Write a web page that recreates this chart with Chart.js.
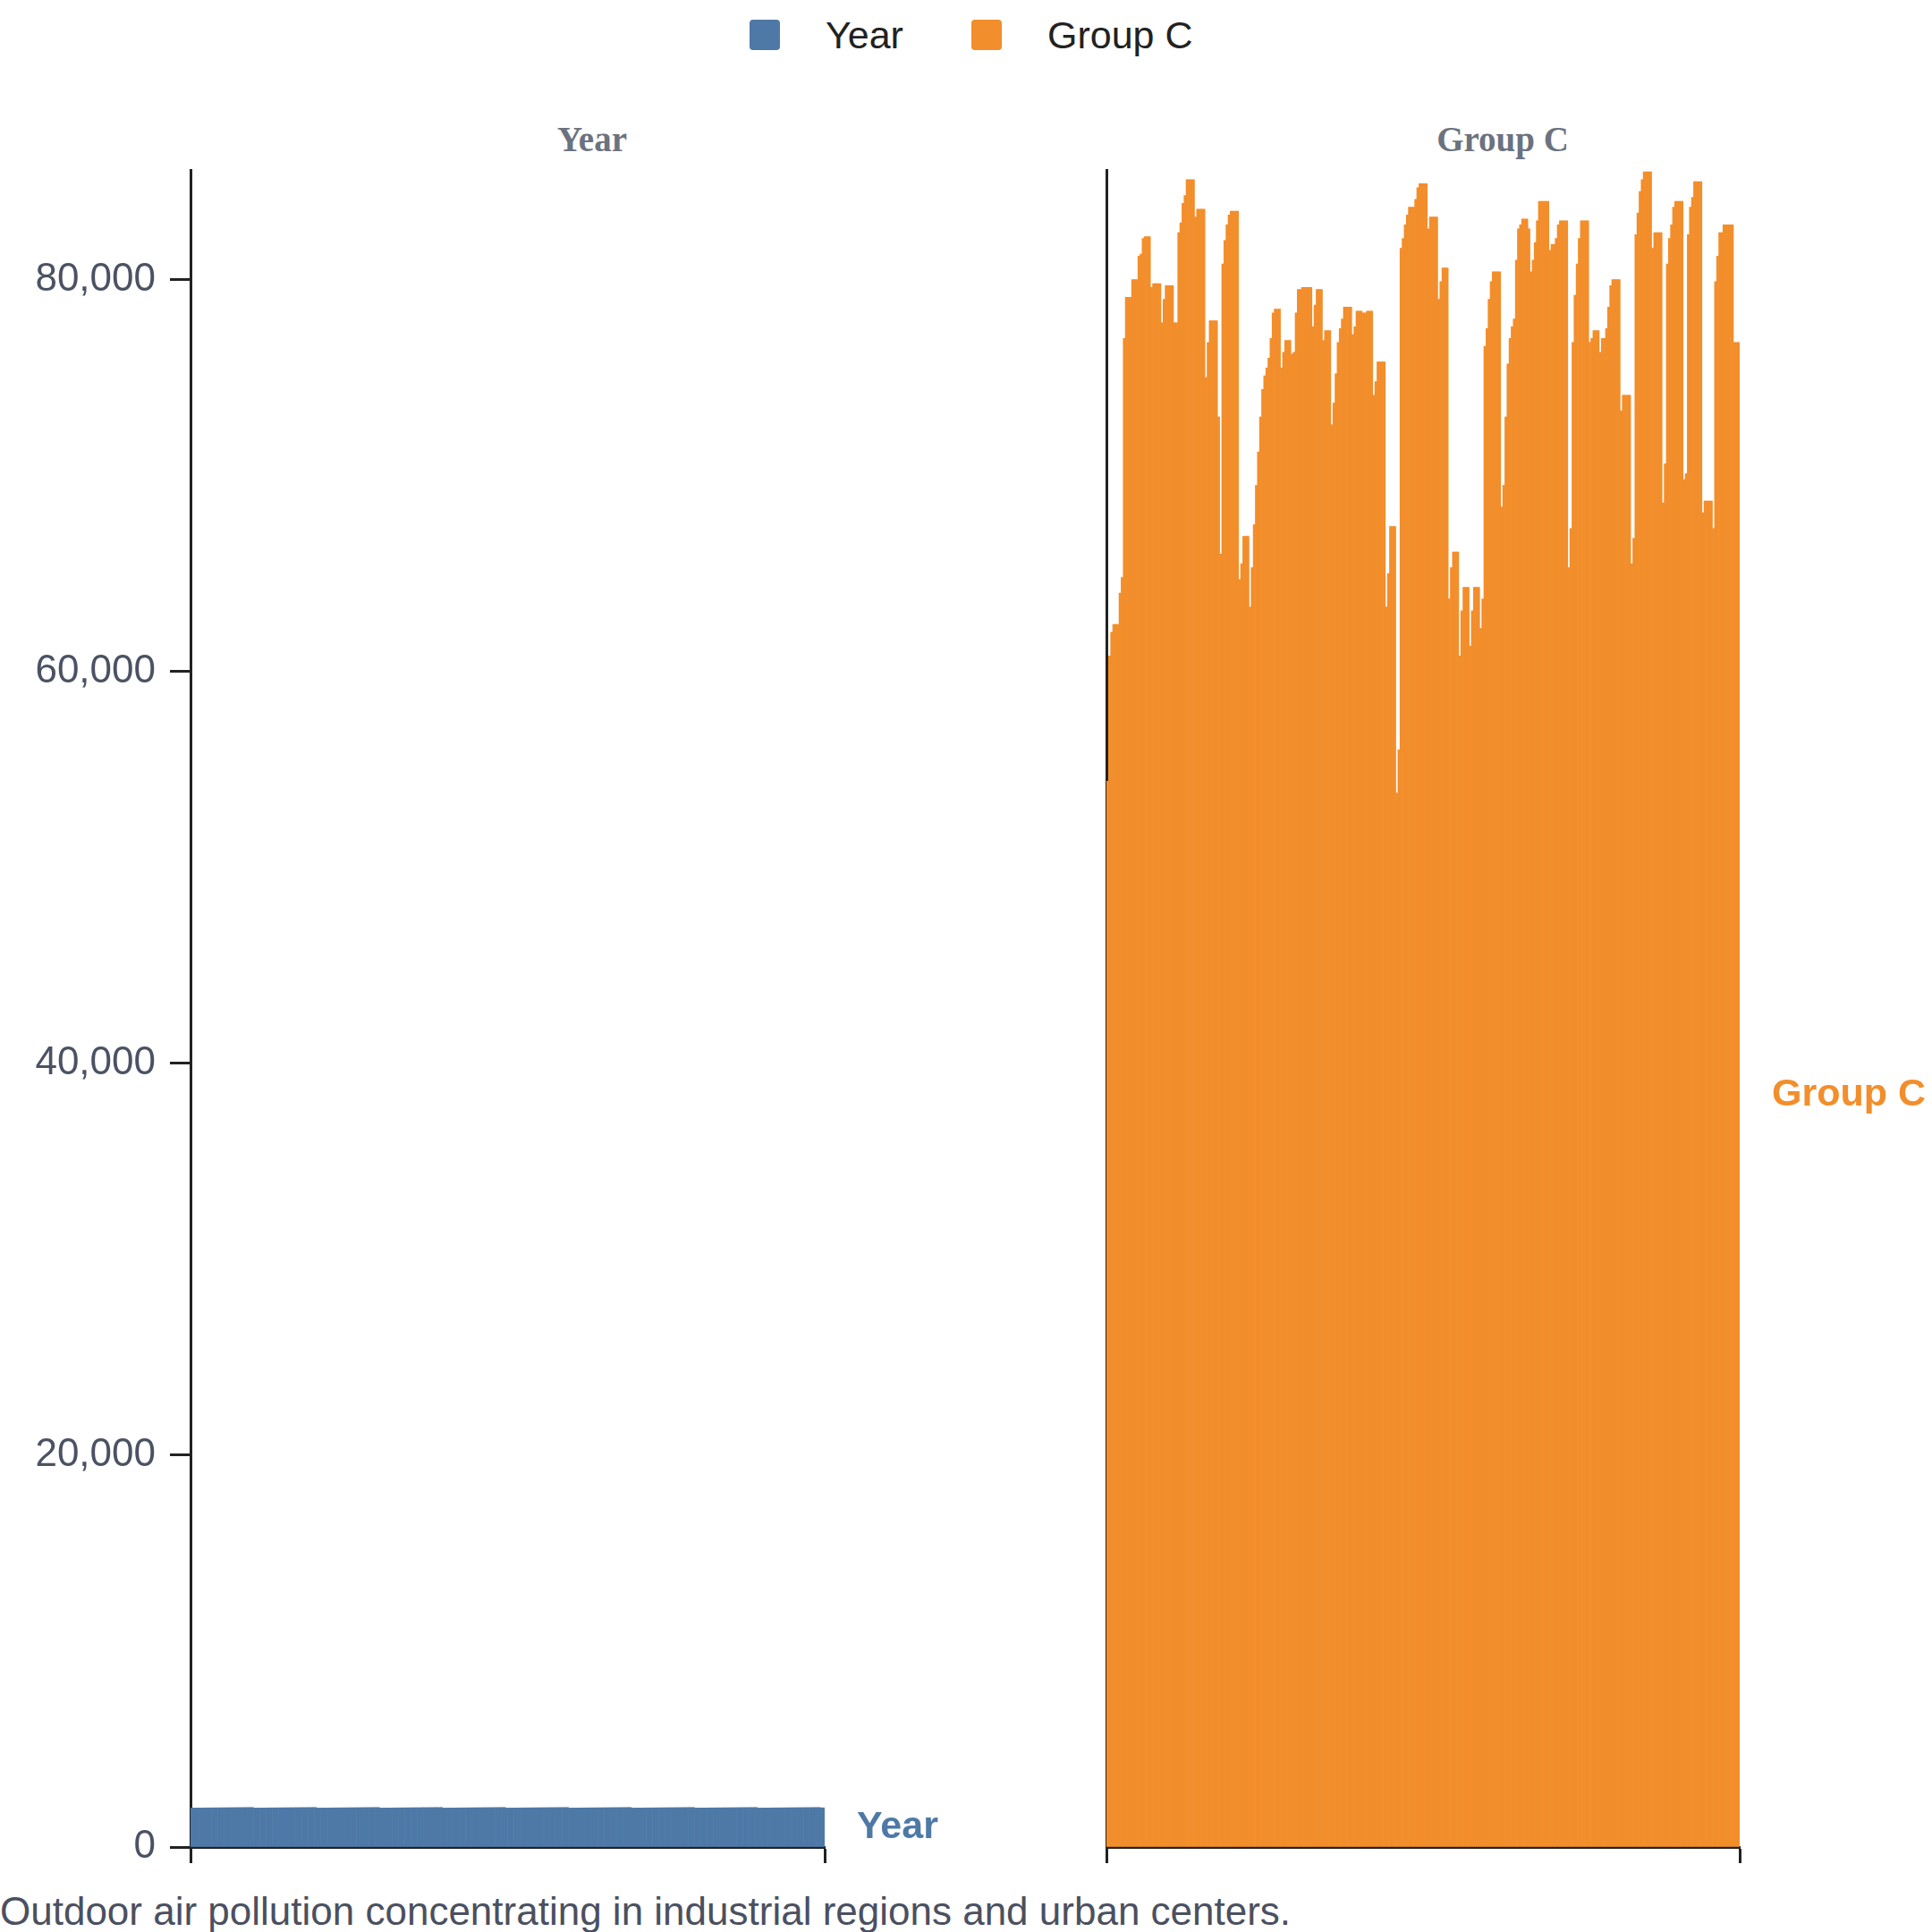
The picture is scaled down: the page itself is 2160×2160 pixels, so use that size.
<!DOCTYPE html>
<html>
<head>
<meta charset="utf-8">
<script src="https://cdn.jsdelivr.net/npm/chart.js@4.4.1/dist/chart.umd.min.js"></script>
<style>
  html, body { margin: 0; padding: 0; background: #ffffff; }
  #page { position: relative; width: 2160px; height: 2160px; overflow: hidden; background: #ffffff;
          font-family: "Liberation Sans", Arial, sans-serif; }
  canvas { position: absolute; }
  .abs { position: absolute; white-space: nowrap; }
  .sq { position: absolute; width: 34px; height: 34px; border-radius: 4px; }
  .legtxt { font-size: 43px; color: #222222; line-height: 1; transform: translateY(-50%); }
  .ftitle { font-family: "Liberation Serif", "Times New Roman", serif; font-weight: bold; font-size: 39px;
            color: #6b7280; line-height: 1; transform: translate(-50%, -50%); }
  #caption { font-size: 44px; color: #4b5060; line-height: 1; transform: translateY(-50%); }
</style>
</head>
<body>
<div id="page">
  <div class="sq" style="left:838px; top:22px; background:#4e79a7;"></div>
  <div class="abs legtxt" style="left:923px; top:39px;">Year</div>
  <div class="sq" style="left:1086px; top:22px; background:#f28e2b;"></div>
  <div class="abs legtxt" style="left:1171px; top:39px;">Group C</div>

  <div class="abs ftitle" style="left:662px; top:155px;">Year</div>
  <div class="abs ftitle" style="left:1680px; top:155px;">Group C</div>

  <canvas id="c1" width="1100" height="1970" style="left:0px; top:140px;"></canvas>
  <canvas id="c2" width="1060" height="1970" style="left:1100px; top:140px;"></canvas>

  <div id="caption" class="abs" style="left:0px; top:2137px;">Outdoor air pollution concentrating in industrial regions and urban centers.</div>
</div>
<script>
// ---- DATA ----
const seriesNames = ["Year", "Group C"];
const seriesColors = ["#4e79a7", "#f28e2b"];
const yTickValues = [0, 20000, 40000, 60000, 80000];
const yMax = 85600;

const yearValues = [
  1990,1991,1992,1993,1994,1995,1996,1997,1998,1999,
  2000,2001,2002,2003,2004,2005,2006,2007,2008,2009,
  2010,2011,2012,2013,2014,2015,2016,2017,2018,2019,
  1990,1991,1992,1993,1994,1995,1996,1997,1998,1999,
  2000,2001,2002,2003,2004,2005,2006,2007,2008,2009,
  2010,2011,2012,2013,2014,2015,2016,2017,2018,2019,
  1990,1991,1992,1993,1994,1995,1996,1997,1998,1999,
  2000,2001,2002,2003,2004,2005,2006,2007,2008,2009,
  2010,2011,2012,2013,2014,2015,2016,2017,2018,2019,
  1990,1991,1992,1993,1994,1995,1996,1997,1998,1999,
  2000,2001,2002,2003,2004,2005,2006,2007,2008,2009,
  2010,2011,2012,2013,2014,2015,2016,2017,2018,2019,
  1990,1991,1992,1993,1994,1995,1996,1997,1998,1999,
  2000,2001,2002,2003,2004,2005,2006,2007,2008,2009,
  2010,2011,2012,2013,2014,2015,2016,2017,2018,2019,
  1990,1991,1992,1993,1994,1995,1996,1997,1998,1999,
  2000,2001,2002,2003,2004,2005,2006,2007,2008,2009,
  2010,2011,2012,2013,2014,2015,2016,2017,2018,2019,
  1990,1991,1992,1993,1994,1995,1996,1997,1998,1999,
  2000,2001,2002,2003,2004,2005,2006,2007,2008,2009,
  2010,2011,2012,2013,2014,2015,2016,2017,2018,2019,
  1990,1991,1992,1993,1994,1995,1996,1997,1998,1999,
  2000,2001,2002,2003,2004,2005,2006,2007,2008,2009,
  2010,2011,2012,2013,2014,2015,2016,2017,2018,2019,
  1990,1991,1992,1993,1994,1995,1996,1997,1998,1999,
  2000,2001,2002,2003,2004,2005,2006,2007,2008,2009,
  2010,2011,2012,2013,2014,2015,2016,2017,2018,2019,
  1990,1991,1992,1993,1994,1995,1996,1997,1998,1999,
  2000,2001,2002,2003,2004,2005,2006,2007,2008,2009,
  2010,2011,2012,2013,2014,2015,2016,2017,2018,2019,
  2000,2001
];

const groupCValues = [
  54400, 60800, 62000, 62400, 62400, 62400, 64000, 64800, 77000,
  79100, 79100, 79100, 80000, 80000, 80000, 81200, 81300, 82100,
  82200, 82200, 82200, 79600, 79800, 79800, 79800, 79800, 77800,
  79000, 79700, 79700, 79700, 79700, 77800, 77800, 82400, 82900,
  83900, 84300, 85100, 85100, 85100, 85100, 83200, 83600, 83600,
  83600, 83600, 75000, 76800, 77900, 77900, 77900, 77900, 73000,
  66000, 80800, 82000, 82800, 83300, 83500, 83500, 83500, 83500,
  64700, 65500, 66900, 66900, 66900, 63300, 65300, 67500, 69500,
  71200, 73000, 74400, 75100, 75500, 76000, 77000, 78300, 78500,
  78500, 78500, 75500, 76300, 76900, 76900, 76900, 76200, 76300,
  78300, 79500, 79500, 79600, 79600, 79600, 79600, 79600, 77600,
  78700, 79500, 79500, 79500, 76900,
  77400, 77400, 77400, 72600, 73700, 75200, 76800, 77500, 78000,
  78600, 78600, 78600, 78600, 77200, 77600, 78400, 78400, 78400,
  78300, 78300, 78400, 78400, 78400, 74100, 74800, 75800, 75800,
  75800, 75800, 63300, 65000, 67400, 67400, 67400, 53800, 56000,
  81600, 82100, 82800, 83300, 83700, 83700, 83700, 84100, 84700,
  84900, 84900, 84900, 84900, 82600, 83200, 83200, 83200, 83200,
  79000, 79900, 80600, 80600, 80600, 63700, 65300, 66100, 66100,
  66100, 60800, 63100, 64300, 64300, 64300, 61300, 63100, 64300,
  64300, 64300, 62200, 63700, 76600, 77500, 79000, 79900, 80400,
  80400, 80400, 80400, 68400, 69500, 73000, 75700, 77000, 77600,
  78000, 81000, 82600, 82800, 83100, 83100, 83100, 82600, 80400,
  81000, 81900, 83000,
  84000, 84000, 84000, 84000, 84000, 81500, 81800, 81800, 82100,
  82800, 83000, 83000, 83000, 83000, 65300, 67300, 76800, 79200,
  80800, 82100, 83000, 83000, 83000, 83000, 76800, 77000, 77400,
  77400, 77400, 76300, 77000, 77000, 77500, 78600, 79700, 80000,
  80000, 80000, 80000, 73300, 74100, 74100, 74100, 74100, 65500,
  66800, 82300, 83400, 84500, 85100, 85500, 85500, 85500, 85500,
  81600, 82400, 82400, 82400, 82400, 68600, 70600, 80800, 82100,
  82800, 83700, 84000, 84000, 84000, 84000, 69800, 70100, 82300,
  83700, 84200, 85000, 85000, 85000, 85000, 68100, 68700, 68700,
  68700, 68700, 67300, 79900, 81200, 82400, 82400, 82800, 82800,
  82800, 82800, 82800, 76800, 76800, 76800
];

const rowLabels = groupCValues.map((_, i) => String(i + 1));

// ---- CHART HELPERS ----
const AXIS = '#222222';
const TICKTXT = '#4b5263';
const FONT = '"Liberation Sans", Arial, sans-serif';

const endLabelPlugin = {
  id: 'endLabel',
  afterDatasetsDraw(chart) {
    const ds = chart.data.datasets[0];
    const vals = ds.data;
    const last = vals[vals.length - 1];
    const y = chart.scales.y.getPixelForValue(last / 2);
    const x = chart.chartArea.right + 36;
    const ctx = chart.ctx;
    ctx.save();
    ctx.font = 'bold 43px ' + FONT;
    ctx.fillStyle = ds.backgroundColor;
    ctx.textAlign = 'left';
    ctx.textBaseline = 'middle';
    ctx.fillText(ds.label, x, y);
    ctx.restore();
  }
};

function makePanel(canvasId, name, color, values, showYLabels, yWidth, padRight) {
  return new Chart(document.getElementById(canvasId), {
    type: 'bar',
    data: {
      labels: rowLabels,
      datasets: [{
        label: name,
        data: values,
        backgroundColor: color,
        borderWidth: 0,
        barPercentage: 1.0,
        categoryPercentage: 1.0
      }]
    },
    options: {
      responsive: false,
      animation: false,
      devicePixelRatio: 1,
      layout: { padding: { left: 0, top: 50, right: padRight, bottom: 0 } },
      plugins: { legend: { display: false }, tooltip: { enabled: false } },
      scales: {
        x: {
          type: 'category',
          offset: true,
          ticks: { display: false },
          grid: {
            offset: true,
            drawOnChartArea: false,
            drawTicks: true,
            tickLength: 18,
            tickWidth: 3,
            tickColor: (c) => (c.index === 0 || c.tick === undefined) ? AXIS : 'rgba(0,0,0,0)',
            color: 'rgba(0,0,0,0)'
          },
          border: { display: true, color: AXIS, width: 3 },
          afterFit: (s) => { s.height = 45; }
        },
        y: {
          min: 0,
          max: yMax,
          afterBuildTicks: (s) => { s.ticks = yTickValues.map(v => ({ value: v })); },
          ticks: {
            display: showYLabels,
            padding: 16,
            color: TICKTXT,
            font: { family: FONT, size: 44 },
            callback: (v) => Number(v).toLocaleString('en-US')
          },
          grid: {
            drawOnChartArea: false,
            drawTicks: showYLabels,
            tickLength: 23,
            tickWidth: 3,
            tickColor: AXIS,
            color: 'rgba(0,0,0,0)'
          },
          border: { display: true, color: AXIS, width: 3 },
          afterFit: (s) => { s.width = yWidth; }
        }
      }
    },
    plugins: [endLabelPlugin]
  });
}

makePanel('c1', seriesNames[0], seriesColors[0], yearValues, true, 213, 178);
makePanel('c2', seriesNames[1], seriesColors[1], groupCValues, false, 137, 215);
</script>
</body>
</html>
